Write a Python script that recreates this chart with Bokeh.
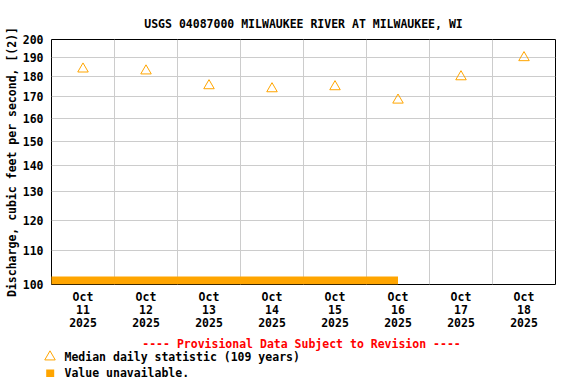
import pandas as pd
from bokeh.plotting import figure
from bokeh.layouts import column
from bokeh.models import Range1d, FixedTicker
from bokeh.core.properties import value
from bokeh.embed import file_html
from bokeh.resources import INLINE

# ---------------- data ----------------
title_text = "USGS 04087000 MILWAUKEE RIVER AT MILWAUKEE, WI"
y_axis_label = "Discharge, cubic feet per second, [(2)]"
provisional_text = "---- Provisional Data Subject to Revision ----"
median_label = "Median daily statistic (109 years)"
unavailable_label = "Value unavailable."

median_dates = ["2025-10-11 12:00", "2025-10-12 12:00", "2025-10-13 12:00",
                "2025-10-14 12:00", "2025-10-15 12:00", "2025-10-16 12:00",
                "2025-10-17 12:00", "2025-10-18 12:00"]
median_values = [184, 183, 175.5, 174, 175, 168.5, 180, 190]

unavailable_start = "2025-10-10 22:30"
unavailable_end = "2025-10-16 12:00"

x_tick_dates = median_dates
x_tick_labels = ["Oct\n11\n2025", "Oct\n12\n2025", "Oct\n13\n2025", "Oct\n14\n2025",
                 "Oct\n15\n2025", "Oct\n16\n2025", "Oct\n17\n2025", "Oct\n18\n2025"]
grid_dates = ["2025-10-12", "2025-10-13", "2025-10-14", "2025-10-15",
              "2025-10-16", "2025-10-17", "2025-10-18"]
y_ticks = [100, 110, 120, 130, 140, 150, 160, 170, 180, 190, 200]
y_tick_labels = ["100", "110", "120", "130", "140", "150", "160", "170", "180", "190", "200"]

period_start = "2025-10-11 00:00"
period_end = "2025-10-19 00:00"

# ---------------- style ----------------
FONT = "DejaVu Sans Mono"
FS = "11.5px"
ORANGE = "#ffa500"
GRID = "#cccccc"
BAR_TOP_FACTOR = 2 ** (8 / 245)  # bar is 8px tall on a 245px log2 span
MAIN_H = 332


def ms(s):
    return pd.Timestamp(s).value / 1e6


p = figure(width=576, height=MAIN_H, x_axis_type="datetime", y_axis_type="log",
           x_range=Range1d(ms(period_start), ms(period_end)),
           y_range=Range1d(y_ticks[0], y_ticks[-1]),
           output_backend="svg", toolbar_location=None,
           min_border_left=51, min_border_right=21, min_border_top=39,
           min_border_bottom=48)
p.frame_align = False
p.outline_line_color = "black"
p.outline_line_width = 1
p.background_fill_color = "white"
p.border_fill_color = "white"

# title
p.title.text = title_text
p.title.align = "center"
p.title.text_font = FONT
p.title.text_font_size = FS
p.title.text_font_style = "bold"
p.title.text_color = "black"
p.title.standoff = 18

# grids
p.xgrid.ticker = FixedTicker(ticks=[ms(d) for d in grid_dates])
p.xgrid.grid_line_color = GRID
p.ygrid.ticker = FixedTicker(ticks=y_ticks[1:-1])
p.ygrid.grid_line_color = GRID

# x axis
p.xaxis.ticker = FixedTicker(ticks=[ms(d) for d in x_tick_dates])
p.xaxis.major_label_overrides = {ms(d): lab for d, lab in zip(x_tick_dates, x_tick_labels)}
p.xaxis.axis_line_color = None
p.xaxis.major_tick_line_color = None
p.xaxis.major_tick_out = 0
p.xaxis.major_tick_in = 0
p.xaxis.minor_tick_line_color = None
p.xaxis.minor_tick_out = 0
p.xaxis.major_label_standoff = 5
p.xaxis.major_label_text_font = FONT
p.xaxis.major_label_text_font_size = FS
p.xaxis.major_label_text_font_style = "bold"
p.xaxis.major_label_text_color = "black"
p.xaxis.major_label_text_line_height = 0.93

# y axis
p.yaxis.ticker = FixedTicker(ticks=y_ticks)
p.yaxis.major_label_overrides = {v: lab for v, lab in zip(y_ticks, y_tick_labels)}
p.yaxis.axis_line_color = None
p.yaxis.major_tick_line_color = None
p.yaxis.major_tick_out = 0
p.yaxis.major_tick_in = 0
p.yaxis.minor_tick_line_color = None
p.yaxis.minor_tick_out = 0
p.yaxis.major_label_standoff = 8
p.yaxis.major_label_text_font = FONT
p.yaxis.major_label_text_font_size = FS
p.yaxis.major_label_text_font_style = "bold"
p.yaxis.major_label_text_color = "black"
p.yaxis.axis_label = y_axis_label
p.yaxis.axis_label_standoff = 1
p.yaxis.axis_label_text_font = FONT
p.yaxis.axis_label_text_font_size = FS
p.yaxis.axis_label_text_font_style = "bold"
p.yaxis.axis_label_text_color = "black"

# value unavailable bar
p.quad(left=[ms(unavailable_start)], right=[ms(unavailable_end)],
       bottom=[y_ticks[0]], top=[y_ticks[0] * BAR_TOP_FACTOR],
       fill_color=ORANGE, line_color=None)

# median triangles
p.scatter(x=[ms(d) for d in median_dates], y=median_values, marker="triangle",
          size=10.5, fill_color=None, line_color=ORANGE, line_width=1)

# ---------------- key (below the chart), coordinates in canvas pixels ----------------
KH = 384 - MAIN_H
k = figure(width=576, height=KH, x_range=Range1d(0, 576), y_range=Range1d(KH, 0),
           output_backend="svg", toolbar_location=None,
           min_border_left=0, min_border_right=0, min_border_top=0, min_border_bottom=0)
k.frame_align = False
k.axis.visible = False
k.grid.visible = False
k.outline_line_color = None
k.background_fill_color = "white"
k.border_fill_color = "white"

oy = MAIN_H
k.text(x=[301], y=[343 - oy], text=[provisional_text], text_align="center",
       text_baseline="middle", text_font=value(FONT), text_font_size=FS,
       text_font_style="bold", text_color="#ff0000")
k.scatter(x=[49.5], y=[356.4 - oy], marker="triangle", size=10.5, fill_color=None,
          line_color=ORANGE, line_width=1)
k.quad(left=[45.7], right=[53.7], top=[369 - oy], bottom=[376.5 - oy],
       fill_color=ORANGE, line_color=None)
k.text(x=[64, 64], y=[356.7 - oy, 372.7 - oy], text=[median_label, unavailable_label],
       text_align="left", text_baseline="middle", text_font=value(FONT),
       text_font_size=FS, text_font_style="bold", text_color="black")

layout = column(p, k, spacing=0)
open("out.html", "w").write(file_html(layout, INLINE))
